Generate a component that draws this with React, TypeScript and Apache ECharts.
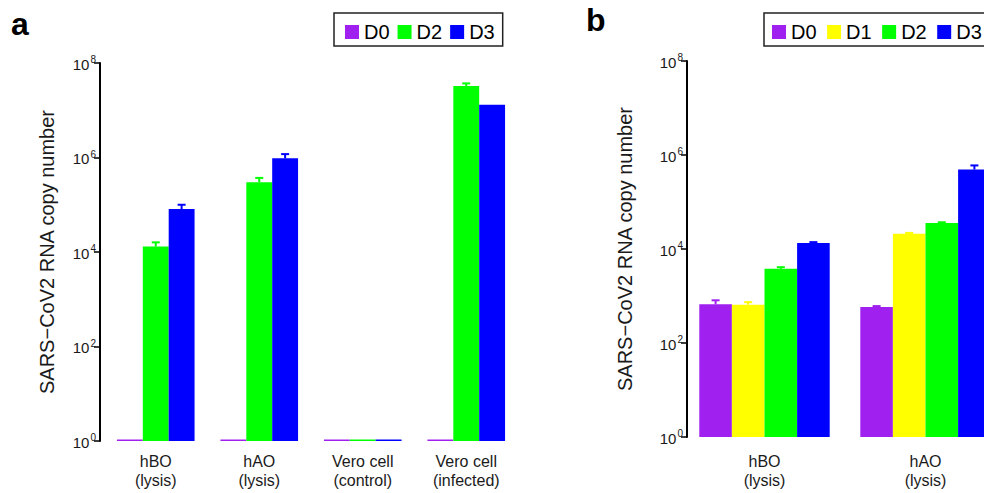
import React, { useEffect, useRef } from "react";
import * as echarts from "echarts";

// ---------- data ----------
const catsA = ["hBO\n(lysis)", "hAO\n(lysis)", "Vero cell\n(control)", "Vero cell\n(infected)"];
const aD0 = [1, 1, 1, 1];
const aD2 = [1.3e4, 3.0e5, 1, 3.25e7];
const aD3 = [8.1e4, 9.6e5, 1, 1.31e7];
const aD0Up: (number | null)[] = [null, null, null, null];
const aD2Up: (number | null)[] = [1.6e4, 3.7e5, null, 3.7e7];
const aD3Up: (number | null)[] = [1.0e5, 1.18e6, null, null];

const catsB = ["hBO\n(lysis)", "hAO\n(lysis)"];
const bD0 = [667, 585];
const bD1 = [655, 2.1e4];
const bD2 = [3.8e3, 3.57e4];
const bD3 = [1.34e4, 4.9e5];
const bD0Up: (number | null)[] = [810, 610];
const bD1Up: (number | null)[] = [740, 2.2e4];
const bD2Up: (number | null)[] = [4.1e3, 3.7e4];
const bD3Up: (number | null)[] = [1.4e4, 6.0e5];

const legendA = ["D0", "D2", "D3"];
const legendB = ["D0", "D1", "D2", "D3"];
const yTitle = "SARS\u2212CoV2 RNA copy number";

const COLORS: Record<string, string> = {
  D0: "#a020f0",
  D1: "#ffff00",
  D2: "#00ff00",
  D3: "#0000ff",
};

const FONT = "'Liberation Sans', Arial, sans-serif";

function makeErrSeries(
  name: string,
  values: number[],
  ups: (number | null)[],
  sIdx: number,
  nSeries: number,
  gap: number,
  nCats: number,
  axisIdx: number
) {
  const data: number[][] = [];
  values.forEach((v, i) => {
    const u = ups[i];
    if (u != null) data.push([i, v, u]);
  });
  return {
    type: "custom",
    name: name + " err",
    xAxisIndex: axisIdx,
    yAxisIndex: axisIdx,
    z: 3,
    encode: { x: 0, y: [1, 2] },
    data,
    renderItem: (params: any, api: any) => {
      const ci = api.value(0);
      const v = api.value(1);
      const u = api.value(2);
      const base = api.coord([ci, v]);
      const top = api.coord([ci, u]);
      const band = params.coordSys.width / nCats;
      const groupW = band * (1 - gap);
      const barW = groupW / nSeries;
      const x = base[0] - groupW / 2 + (sIdx + 0.5) * barW;
      const cap = 4;
      const st = { stroke: COLORS[name], lineWidth: 2 };
      return {
        type: "group",
        children: [
          { type: "line", shape: { x1: x, y1: base[1], x2: x, y2: top[1] }, style: st },
          { type: "line", shape: { x1: x - cap, y1: top[1], x2: x + cap, y2: top[1] }, style: st },
        ],
      };
    },
  };
}

function barSeries(name: string, values: number[], axisIdx: number, gap: string) {
  return {
    type: "bar",
    name,
    xAxisIndex: axisIdx,
    yAxisIndex: axisIdx,
    barGap: "0%",
    barCategoryGap: gap,
    barMinHeight: 1.5,
    itemStyle: { color: COLORS[name] },
    data: values,
  };
}

function yAxisOpt(gridIndex: number, offset: number, nameGap: number) {
  return {
    type: "log",
    gridIndex,
    logBase: 10,
    min: 1,
    max: 1e8,
    interval: 2,
    offset,
    name: yTitle,
    nameLocation: "middle",
    nameGap,
    nameTextStyle: { fontFamily: FONT, fontSize: 20, color: "#1a1a1a" },
    axisLine: { show: true, lineStyle: { color: "#000", width: 2 } },
    axisTick: { show: true, length: 6, lineStyle: { color: "#000", width: 1.5 } },
    splitLine: { show: false },
    axisLabel: {
      margin: 4,
      formatter: (v: number) => "{b|10}{s|" + Math.round(Math.log10(v)) + "}",
      rich: {
        b: { fontFamily: FONT, fontSize: 15, color: "#1a1a1a", lineHeight: 17, verticalAlign: "bottom" },
        s: { fontFamily: FONT, fontSize: 10, color: "#1a1a1a", verticalAlign: "top", padding: [0, 0, 0, 1] },
      },
    },
  };
}

function xAxisOpt(gridIndex: number, data: string[], margin: number) {
  return {
    type: "category",
    gridIndex,
    data,
    axisLine: { show: false },
    axisTick: { show: false },
    axisLabel: {
      interval: 0,
      margin,
      fontFamily: FONT,
      fontSize: 16,
      lineHeight: 19,
      color: "#1a1a1a",
    },
  };
}

function legendOpt(data: string[], left: number, gap: number, padLeft: number) {
  return {
    data,
    left,
    top: 13,
    orient: "horizontal",
    selectedMode: false,
    icon: "rect",
    itemWidth: 14,
    itemHeight: 14,
    itemGap: gap,
    padding: [9, 8, 4, padLeft],
    borderColor: "#222",
    borderWidth: 1.5,
    borderRadius: 0,
    textStyle: { fontFamily: FONT, fontSize: 20, color: "#000" },
  };
}

export default function App() {
  const ref = useRef<HTMLDivElement>(null);
  useEffect(() => {
    if (!ref.current) return;
    const chart = echarts.init(ref.current, undefined, { renderer: "svg" });
    const option: any = {
      animation: false,
      backgroundColor: "#fff",
      grid: [
        { left: 104, top: 63, width: 414, height: 378 },
        { left: 684, top: 61, width: 322, height: 376 },
      ],
      xAxis: [xAxisOpt(0, catsA, 11), xAxisOpt(1, catsB, 15)],
      yAxis: [yAxisOpt(0, 4, 43), yAxisOpt(1, -3, 52)],
      legend: [legendOpt(legendA, 334, 8, 11), legendOpt(legendB, 764, 10.5, 8)],
      graphic: [
        {
          type: "text",
          left: 11,
          top: 8,
          style: { text: "a", fontFamily: FONT, fontWeight: "bold", fontSize: 32, fill: "#000" },
        },
        {
          type: "text",
          left: 586,
          top: 4,
          style: { text: "b", fontFamily: FONT, fontWeight: "bold", fontSize: 32, fill: "#000" },
        },
      ],
      series: [
        barSeries("D0", aD0, 0, "25%"),
        barSeries("D2", aD2, 0, "25%"),
        barSeries("D3", aD3, 0, "25%"),
        makeErrSeries("D0", aD0, aD0Up, 0, 3, 0.25, catsA.length, 0),
        makeErrSeries("D2", aD2, aD2Up, 1, 3, 0.25, catsA.length, 0),
        makeErrSeries("D3", aD3, aD3Up, 2, 3, 0.25, catsA.length, 0),
        barSeries("D0", bD0, 1, "19%"),
        barSeries("D1", bD1, 1, "19%"),
        barSeries("D2", bD2, 1, "19%"),
        barSeries("D3", bD3, 1, "19%"),
        makeErrSeries("D0", bD0, bD0Up, 0, 4, 0.19, catsB.length, 1),
        makeErrSeries("D1", bD1, bD1Up, 1, 4, 0.19, catsB.length, 1),
        makeErrSeries("D2", bD2, bD2Up, 2, 4, 0.19, catsB.length, 1),
        makeErrSeries("D3", bD3, bD3Up, 3, 4, 0.19, catsB.length, 1),
      ],
    };
    chart.setOption(option);
    return () => chart.dispose();
  }, []);
  return (
    <div
      style={{
        width: 984,
        height: 493,
        position: "absolute",
        left: 0,
        top: 0,
        overflow: "hidden",
        background: "#fff",
      }}
    >
      <div ref={ref} style={{ width: 1020, height: 493 }} />
    </div>
  );
}
